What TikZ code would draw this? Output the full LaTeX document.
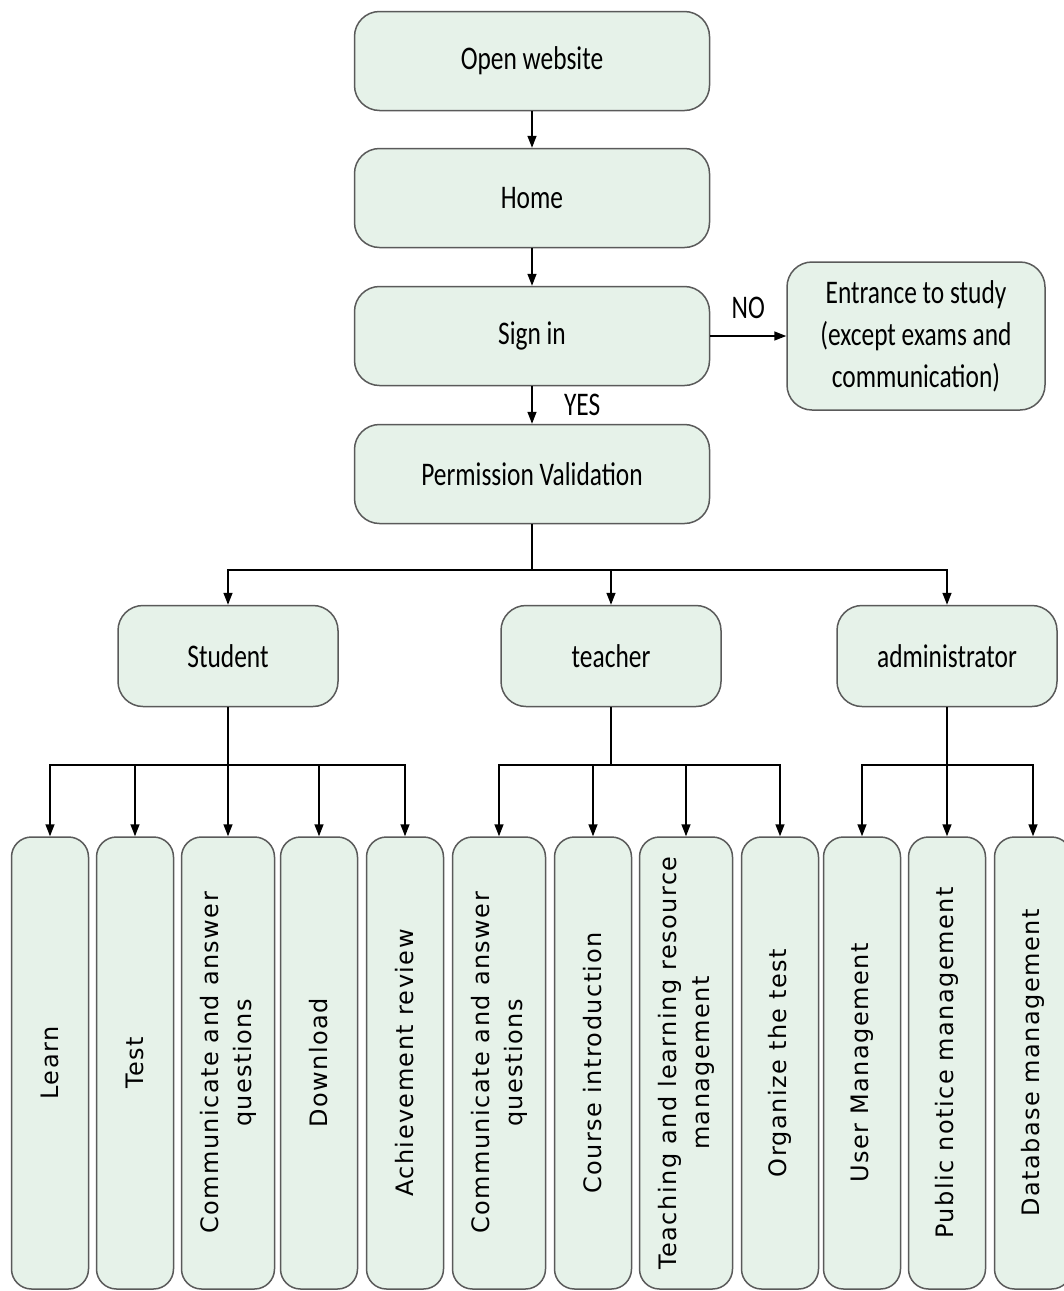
\documentclass[tikz,border=0pt]{standalone}
\usepackage{fontspec}
\setmainfont{Carlito}[FakeStretch=0.77]
\newfontfamily\taskfont{DejaVu Sans}[LetterSpace=6]
\usetikzlibrary{arrows.meta,positioning}

\definecolor{boxgreen}{HTML}{E6F2E9}
\definecolor{boxline}{HTML}{5A5A5A}

\tikzset{
  box/.style={draw=boxline, fill=boxgreen, line width=1.5pt, rounded corners=25pt,
    minimum width=355pt, minimum height=99pt, align=center,
    font=\fontsize{33}{42}\selectfont},
  role/.style={box, minimum width=220pt, minimum height=101pt},
  task/.style={draw=boxline, fill=boxgreen, line width=1.5pt, rounded corners=20pt,
    rotate=90, minimum width=452pt, minimum height=77pt, align=center, inner sep=2pt,
    font=\taskfont\fontsize{24}{33}\selectfont},
  widetask/.style={task, minimum height=93pt},
  arr/.style={-{Triangle[length=12pt,width=9pt]}, line width=1.5pt},
  link/.style={line width=1.5pt}
}

\begin{document}
\begin{tikzpicture}[x=1pt,y=-1pt]
    \useasboundingbox (0,0) rectangle (1064,1291);
    % Main flow
    \node[box] (open) at (532,61) {Open website};
    \node[box] (home) at (532,198) {Home};
    \node[box] (signin) at (532,336) {Sign in};
    \node[box] (perm) at (532,474) {Permission Validation};
    \node[box, minimum width=258pt, minimum height=148pt] (guest) at (916,336)
        {Entrance to study\\(except exams and\\communication)};
    \draw[arr] (open) -- (home);
    \draw[arr] (home) -- (signin);
    \draw[arr] (signin) -- node[right=28pt, font=\fontsize{33}{36}\selectfont] {YES} (perm);
    \draw[arr] (signin) -- node[above=13pt, font=\fontsize{33}{36}\selectfont] {NO} (guest);
    % Roles
    \node[role] (student) at (228,656) {Student};
    \node[role] (teacher) at (611,656) {teacher};
    \node[role] (admin) at (947,656) {administrator};
    \coordinate (split) at (532,570);
    \draw[link] (perm) -- (split);
    \draw[arr] (split) -| (student);
    \draw[arr] (split) -| (teacher);
    \draw[arr] (split) -| (admin);
    % Student tasks
    \node[task] (learn) at (50,1063) {Learn};
    \node[task] (test) at (135,1063) {Test};
    \node[widetask] (sqa) at (228,1063) {Communicate and answer\\questions};
    \node[task] (download) at (319,1063) {Download};
    \node[task] (review) at (405,1063) {Achievement review};
    \coordinate (sbar) at (228,765);
    \draw[link] (student) -- (sbar);
    \draw[arr] (sbar) -| (learn.east);
    \draw[arr] (sbar) -| (test.east);
    \draw[arr] (sbar) -- (sqa.east);
    \draw[arr] (sbar) -| (download.east);
    \draw[arr] (sbar) -| (review.east);
    % Teacher tasks
    \node[widetask] (tqa) at (499,1063) {Communicate and answer\\questions};
    \node[task] (course) at (593,1063) {Course introduction};
    \node[widetask] (resource) at (686,1063) {Teaching and learning resource\\management};
    \node[task] (organize) at (780,1063) {Organize the test};
    \coordinate (tbar) at (611,765);
    \draw[link] (teacher) -- (tbar);
    \draw[arr] (tbar) -| (tqa.east);
    \draw[arr] (tbar) -| (course.east);
    \draw[arr] (tbar) -| (resource.east);
    \draw[arr] (tbar) -| (organize.east);
    % Administrator tasks
    \node[task] (users) at (862,1063) {User Management};
    \node[task] (notice) at (947,1063) {Public notice management};
    \node[task] (database) at (1033,1063) {Database management};
    \coordinate (abar) at (947,765);
    \draw[link] (admin) -- (abar);
    \draw[arr] (abar) -| (users.east);
    \draw[arr] (abar) -- (notice.east);
    \draw[arr] (abar) -| (database.east);
\end{tikzpicture}
\end{document}
